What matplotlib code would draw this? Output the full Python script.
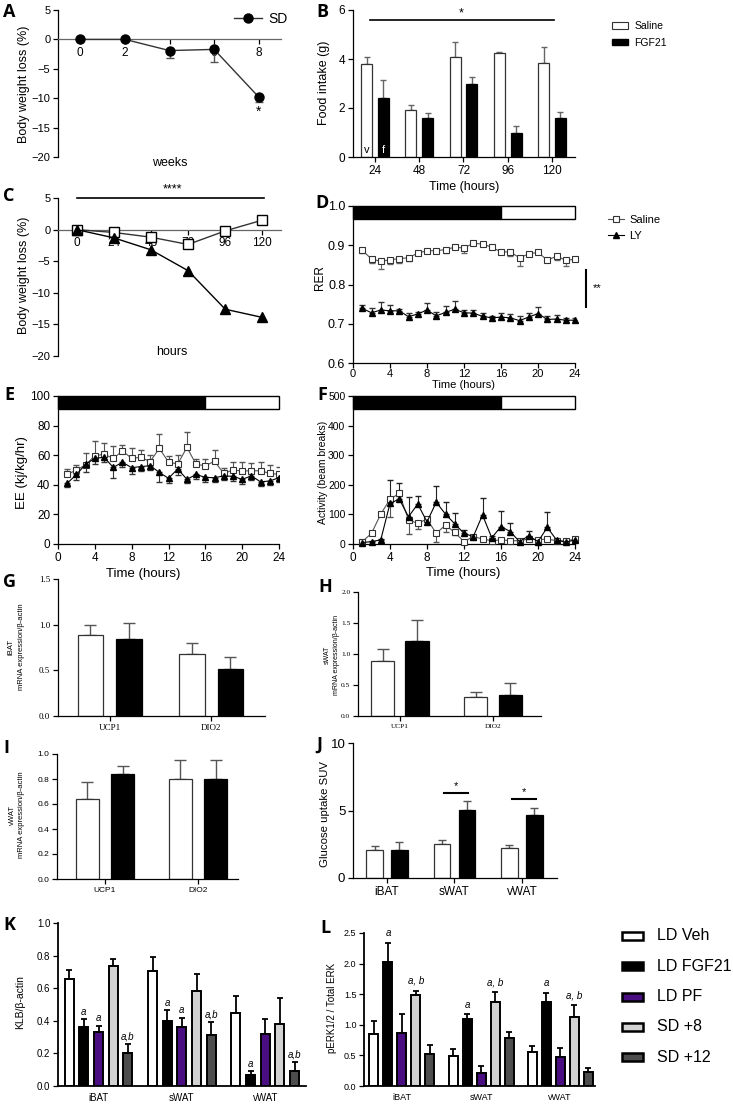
import matplotlib
matplotlib.use('Agg')
import matplotlib.pyplot as plt
import numpy as np
from matplotlib.patches import Rectangle, Patch
from matplotlib.lines import Line2D

# ---------------- data ----------------
a_weeks = [0, 2, 4, 6, 8]
a_sd = [0, 0, -1.9, -1.7, -9.8]
a_sd_err = [0, 0, 1.2, 2.2, 0.8]

b_times = ['24', '48', '72', '96', '120']
b_saline = [3.8, 1.9, 4.1, 4.25, 3.85]
b_saline_err = [0.27, 0.23, 0.6, 0.04, 0.64]
b_fgf21 = [2.4, 1.6, 3.0, 1.0, 1.6]
b_fgf21_err = [0.76, 0.19, 0.28, 0.27, 0.24]

c_hours = [0, 24, 48, 72, 96, 120]
c_saline = [0, -0.45, -1.2, -2.35, -0.2, 1.5]
c_ly = [0, -1.3, -3.2, -6.5, -12.6, -13.9]

hours = list(range(1, 25))
d_saline = [0.887, 0.865, 0.859, 0.863, 0.866, 0.868, 0.880, 0.886, 0.886, 0.889, 0.895, 0.893,
            0.905, 0.903, 0.895, 0.883, 0.883, 0.868, 0.878, 0.882, 0.862, 0.872, 0.862, 0.864]
d_saline_err = [0.008, 0.01, 0.02, 0.012, 0.01, 0.008, 0.005, 0.005, 0.005, 0.01, 0.005, 0.012,
                0.005, 0.005, 0.005, 0.005, 0.01, 0.02, 0.005, 0.005, 0.005, 0.01, 0.015, 0.005]
d_ly = [0.739, 0.728, 0.735, 0.733, 0.733, 0.718, 0.725, 0.735, 0.720, 0.729, 0.737, 0.728,
        0.727, 0.719, 0.715, 0.717, 0.715, 0.708, 0.717, 0.726, 0.711, 0.712, 0.709, 0.709]
d_ly_err = [0.01, 0.012, 0.02, 0.015, 0.005, 0.01, 0.005, 0.018, 0.01, 0.015, 0.02, 0.008,
            0.008, 0.008, 0.005, 0.01, 0.01, 0.012, 0.01, 0.017, 0.01, 0.01, 0.005, 0.005]

e_saline = [47, 50, 53.4, 59.7, 60.6, 57.9, 62.8, 57.9, 58.6, 55.6, 64.6, 55.4,
            54, 65.3, 53.8, 52.9, 55.9, 47.7, 50, 49.3, 49.5, 49.5, 47.7, 47]
e_saline_err = [3.5, 3.5, 8, 10, 7.4, 8.3, 4, 7, 5, 4.5, 10, 4,
                6, 10.6, 3.4, 4.3, 7.6, 3.4, 5.6, 6.3, 5, 6, 6, 5]
e_ly = [41, 47, 53.8, 57.9, 58.6, 51.8, 55.2, 51.6, 52.3, 52.9, 48.4, 44.4,
        50.7, 43.7, 47, 45, 44.8, 46, 45.7, 43.7, 46, 42, 42.6, 44.8]
e_ly_err = [2.3, 4, 5, 4, 3, 7.5, 3, 4, 3, 3, 6.7, 3.4,
            4, 2.7, 3, 3, 3, 3, 3, 3, 3, 2.5, 3, 3]

f_saline = [8, 36, 101, 151, 171, 81, 70, 84, 36, 64, 39, 8,
            25, 17, 11, 14, 11, 11, 17, 14, 17, 11, 10, 17]
f_saline_err = [2, 5, 5, 59, 10, 47, 20, 5, 30, 25, 10, 8,
                3, 3, 3, 3, 3, 3, 3, 3, 3, 3, 3, 3]
f_ly = [5, 8, 14, 137, 152, 92, 135, 75, 141, 101, 68, 36,
        25, 98, 21, 59, 42, 8, 28, 8, 56, 14, 6, 14]
f_ly_err = [3, 3, 3, 79, 53, 68, 28, 10, 56, 42, 36, 11,
            5, 59, 5, 51, 30, 3, 16, 3, 53, 3, 3, 3]

genes = ['UCP1', 'DIO2']
g_saline = [0.885, 0.68]
g_saline_err = [0.115, 0.115]
g_fgf21 = [0.845, 0.51]
g_fgf21_err = [0.175, 0.14]
h_saline = [0.886, 0.30]
h_saline_err = [0.19, 0.08]
h_fgf21 = [1.21, 0.335]
h_fgf21_err = [0.34, 0.2]
i_saline = [0.638, 0.798]
i_saline_err = [0.136, 0.154]
i_fgf21 = [0.84, 0.798]
i_fgf21_err = [0.067, 0.154]

tissues = ['iBAT', 'sWAT', 'vWAT']
j_saline = [2.04, 2.51, 2.2]
j_saline_err = [0.32, 0.29, 0.24]
j_fgf21 = [2.07, 5.07, 4.7]
j_fgf21_err = [0.63, 0.67, 0.45]

kl_groups = ['LD Veh', 'LD FGF21', 'LD PF', 'SD +8', 'SD +12']
kl_colors = ['white', 'black', '#4a0d82', '#d2d2d2', '#4d4d4d']
k_vals = [[0.657, 0.705, 0.45], [0.36, 0.40, 0.07], [0.33, 0.365, 0.32],
          [0.735, 0.58, 0.38], [0.20, 0.315, 0.09]]
k_errs = [[0.055, 0.085, 0.10], [0.05, 0.065, 0.02], [0.04, 0.055, 0.09],
          [0.045, 0.11, 0.16], [0.055, 0.075, 0.06]]
k_marks = [['', '', ''], ['a', 'a', 'a'], ['a', 'a', ''], ['', '', ''], ['a,b', 'a,b', 'a,b']]
l_vals = [[0.85, 0.49, 0.55], [2.03, 1.09, 1.38], [0.87, 0.22, 0.48],
          [1.49, 1.37, 1.12], [0.52, 0.78, 0.23]]
l_errs = [[0.21, 0.12, 0.11], [0.31, 0.08, 0.14], [0.31, 0.11, 0.14],
          [0.07, 0.16, 0.2], [0.15, 0.1, 0.07]]
l_marks = [['', '', ''], ['a', 'a', 'a'], ['', '', ''], ['a, b', 'a, b', 'a, b'], ['', '', '']]

# ---------------- figure ----------------
plt.rcParams['font.family'] = ['Liberation Sans', 'DejaVu Sans']
W, H = 733, 1106
fig = plt.figure(figsize=(W / 100, H / 100), dpi=100)


def add_ax(l, t, r, b):
    return fig.add_axes([l / W, 1 - b / H, (r - l) / W, (b - t) / H])


def ftext(x, y, s, **kw):
    kw.setdefault('ha', 'center')
    kw.setdefault('va', 'center')
    fig.text(x / W, 1 - y / H, s, **kw)


def style(ax, lab=8.5):
    for s in ['top', 'right']:
        ax.spines[s].set_visible(False)
    for s in ['left', 'bottom']:
        ax.spines[s].set_linewidth(0.9)
    ax.tick_params(direction='out', length=3.5, width=0.9, labelsize=lab, pad=2)


def letter(x, y, s):
    ftext(x, y, s, fontsize=13, fontweight='bold', family='Open Sans')


ECOL = '#555555'

# ---- A ----
ax = add_ax(58, 10, 281, 157)
style(ax, 8)
ax.set_xlim(-1, 9)
ax.set_ylim(-20, 5)
ax.spines['bottom'].set_position(('data', 0))
ax.spines['bottom'].set_color('#666666')
ax.set_xticks(a_weeks)
ax.tick_params(axis='x', labelsize=8.5)
ax.set_yticks([5, 0, -5, -10, -15, -20])
ax.errorbar(a_weeks, a_sd, yerr=[a_sd_err, [0] * 5], fmt='none', ecolor=ECOL,
            elinewidth=1, capsize=3, zorder=3)
ln, = ax.plot(a_weeks, a_sd, '-', color='#333333', lw=1, marker='o', ms=6.5,
              mfc='black', mec='black', zorder=4, clip_on=False)
ax.text(8, -12.3, '*', ha='center', va='center', fontsize=10)
fig.legend([ln], ['SD'], loc='center left', bbox_to_anchor=(222 / W, 1 - 19 / H),
           frameon=False, fontsize=10, handlelength=2.0, handletextpad=0.4)
ftext(24, 84, 'Body weight loss (%)', rotation=90, fontsize=9)
ftext(170, 163, 'weeks', fontsize=9)
letter(9, 12, 'A')

# ---- B ----
ax = add_ax(353, 10, 575, 157)
style(ax)
xb = np.arange(len(b_times))
ax.set_xlim(-0.497, 4.52)
ax.set_ylim(0, 6)
ax.set_yticks([0, 2, 4, 6])
ax.set_xticks(xb)
ax.set_xticklabels(b_times)
ax.bar(xb - 0.19, b_saline, 0.25, color='white', edgecolor='#333333', lw=0.9, zorder=2)
ax.bar(xb + 0.19, b_fgf21, 0.25, color='black', edgecolor='black', lw=0.9, zorder=2)
ax.errorbar(xb - 0.19, b_saline, yerr=[[0] * 5, b_saline_err], fmt='none', ecolor='#666666',
            elinewidth=1, capsize=2.5, zorder=1)
ax.errorbar(xb + 0.19, b_fgf21, yerr=[[0] * 5, b_fgf21_err], fmt='none', ecolor='#666666',
            elinewidth=1, capsize=2.5, zorder=1)
ax.plot([-0.12, 4.05], [5.58, 5.58], color='black', lw=1.2, clip_on=False)
ax.text(1.95, 5.85, '*', ha='center', va='center', fontsize=9)
ax.text(-0.19, 0.3, 'v', ha='center', va='center', fontsize=8)
ax.text(0.19, 0.3, 'f', ha='center', va='center', fontsize=8, color='white')
fig.legend([Patch(facecolor='white', edgecolor='#333333', lw=0.8),
            Patch(facecolor='black', edgecolor='black')], ['Saline', 'FGF21'],
           loc='upper left', bbox_to_anchor=(603 / W, 1 - 12 / H), frameon=False,
           fontsize=7.5, handlelength=1.5, handleheight=0.6, handletextpad=0.6,
           labelspacing=0.6)
ftext(324, 83, 'Food intake (g)', rotation=90, fontsize=9)
ftext(464, 187, 'Time (hours)', fontsize=9)
letter(322, 12, 'B')

# ---- C ----
ax = add_ax(58, 198, 281, 356)
style(ax, 8)
ax.set_xlim(-12, 132)
ax.set_ylim(-20, 5)
ax.spines['bottom'].set_position(('data', 0))
ax.spines['bottom'].set_color('#666666')
ax.set_xticks(c_hours)
ax.tick_params(axis='x', labelsize=8.5)
ax.set_yticks([5, 0, -5, -10, -15, -20])
ax.plot(c_hours, c_saline, '-', color='#333333', lw=1, marker='s', ms=6.5,
        mfc='white', mec='black', mew=1, zorder=4, clip_on=False)
ax.plot(c_hours, c_ly, '-', color='black', lw=1, marker='^', ms=7,
        mfc='black', mec='black', zorder=4, clip_on=False)
ax.plot([0, 121], [5, 5], color='black', lw=1.2, clip_on=False)
ftext(172, 189, '****', fontsize=9)
ftext(24, 275, 'Body weight loss (%)', rotation=90, fontsize=9)
ftext(172, 352, 'hours', fontsize=9)
letter(9, 196, 'C')


def light_bar(ax, ylo, yhi):
    ax.add_patch(Rectangle((0, ylo), 16, yhi - ylo, facecolor='black', edgecolor='black',
                           lw=1, clip_on=False, zorder=3))
    ax.add_patch(Rectangle((16, ylo), 8, yhi - ylo, facecolor='white', edgecolor='black',
                           lw=1, clip_on=False, zorder=3))


# ---- D ----
ax = add_ax(353, 206, 575, 363)
style(ax, 9)
ax.tick_params(axis='x', labelsize=8, pad=1)
ax.set_xlim(0, 24)
ax.set_ylim(0.6, 1.0)
ax.set_xticks(range(0, 25, 4))
ax.set_yticks([0.6, 0.7, 0.8, 0.9, 1.0])
ax.set_yticklabels(['0.6', '0.7', '0.8', '0.9', '1.0'])
light_bar(ax, 0.966, 1.0)
ax.errorbar(hours, d_saline, yerr=[d_saline_err, [0] * 24], fmt='none', ecolor='#666666',
            elinewidth=0.8, capsize=2, zorder=3)
ax.errorbar(hours, d_ly, yerr=[[0] * 24, d_ly_err], fmt='none', ecolor='#333333',
            elinewidth=0.8, capsize=2, zorder=3)
l1, = ax.plot(hours, d_saline, '-', color='#555555', lw=0.8, marker='s', ms=4.5,
              mfc='white', mec='#333333', mew=0.8, zorder=4, clip_on=False)
l2, = ax.plot(hours, d_ly, '-', color='black', lw=0.8, marker='^', ms=4.5,
              mfc='black', mec='black', zorder=4, clip_on=False)
fig.legend([l1, l2], ['Saline', 'LY'], loc='upper left', bbox_to_anchor=(598 / W, 1 - 205 / H),
           frameon=False, fontsize=8, handlelength=1.4, handletextpad=0.5, labelspacing=0.5)
fig.add_artist(Line2D([586 / W, 586 / W], [1 - 270 / H, 1 - 307 / H], color='black', lw=1.5))
ftext(597, 288, '**', fontsize=8)
ftext(320, 278, 'RER', rotation=90, fontsize=8.5)
ftext(463, 385, 'Time (hours)', fontsize=8)
letter(322, 203, 'D')

# ---- E ----
ax = add_ax(58, 396, 279, 544)
style(ax, 8.5)
ax.set_xlim(0, 24)
ax.set_ylim(0, 100)
ax.set_xticks(range(0, 25, 4))
ax.set_yticks(range(0, 101, 20))
light_bar(ax, 91, 100)
ax.errorbar(hours, e_saline, yerr=[[0] * 24, e_saline_err], fmt='none', ecolor='#555555',
            elinewidth=0.8, capsize=2, zorder=3)
ax.errorbar(hours, e_ly, yerr=[e_ly_err, [0] * 24], fmt='none', ecolor='#333333',
            elinewidth=0.8, capsize=2, zorder=3)
ax.plot(hours, e_saline, '-', color='#555555', lw=0.8, marker='s', ms=5,
        mfc='white', mec='#333333', mew=0.8, zorder=4)
ax.plot(hours, e_ly, '-', color='black', lw=0.8, marker='^', ms=4.5,
        mfc='black', mec='black', zorder=4)
ftext(22, 473, 'EE (kj/kg/hr)', rotation=90, fontsize=9.5)
ftext(143, 574, 'Time (hours)', fontsize=9.5)
letter(9, 395, 'E')

# ---- F ----
ax = add_ax(353, 396, 575, 544)
style(ax, 7.5)
ax.tick_params(axis='x', labelsize=8.5)
ax.set_xlim(0, 24)
ax.set_ylim(0, 500)
ax.set_xticks(range(0, 25, 4))
ax.set_yticks(range(0, 501, 100))
light_bar(ax, 455, 500)
ax.errorbar(hours, f_saline, yerr=[f_saline_err, [0] * 24], fmt='none', ecolor='#555555',
            elinewidth=0.8, capsize=2, zorder=3)
ax.errorbar(hours, f_ly, yerr=[[0] * 24, f_ly_err], fmt='none', ecolor='#222222',
            elinewidth=0.8, capsize=2, zorder=3)
ax.plot(hours, f_saline, '-', color='#555555', lw=0.8, marker='s', ms=5,
        mfc='white', mec='#333333', mew=0.8, zorder=4, clip_on=False)
ax.plot(hours, f_ly, '-', color='black', lw=0.8, marker='^', ms=4.5,
        mfc='black', mec='black', zorder=4, clip_on=False)
ftext(323, 472, 'Activity (beam breaks)', rotation=90, fontsize=7.5)
ftext(463, 573, 'Time (hours)', fontsize=9.5)
letter(322, 395, 'F')


def pair_bars(ax, sal, sal_e, fgf, fgf_e, off, w, cap=3):
    x = np.arange(len(sal))
    ax.bar(x - off, sal, w, color='white', edgecolor='#333333', lw=0.9, zorder=2)
    ax.bar(x + off, fgf, w, color='black', edgecolor='black', lw=0.9, zorder=2)
    ax.errorbar(x - off, sal, yerr=[[0] * len(sal), sal_e], fmt='none', ecolor='#555555',
                elinewidth=1, capsize=cap, zorder=1)
    ax.errorbar(x + off, fgf, yerr=[[0] * len(fgf), fgf_e], fmt='none', ecolor='#555555',
                elinewidth=1, capsize=cap, zorder=1)
    return x


# ---- G ----
ax = add_ax(58, 579, 265, 716)
style(ax, 6.5)
x = pair_bars(ax, g_saline, g_saline_err, g_fgf21, g_fgf21_err, 0.19, 0.25, cap=4)
ax.set_xlim(-0.507, 1.53)
ax.set_ylim(0, 1.5)
ax.set_yticks([0, 0.5, 1.0, 1.5])
ax.set_yticklabels(['0.0', '0.5', '1.0', '1.5'])
ax.set_xticks(x)
ax.set_xticklabels(genes)
for t in ax.get_xticklabels() + ax.get_yticklabels():
    t.set_family('Liberation Serif')
ftext(11, 647, 'iBAT', rotation=90, fontsize=5.5)
ftext(22, 647, 'mRNA expression/β-actin', rotation=90, fontsize=5.5)
letter(9, 582, 'G')

# ---- H ----
ax = add_ax(358, 592, 541, 716)
style(ax, 5.3)
x = pair_bars(ax, h_saline, h_saline_err, h_fgf21, h_fgf21_err, 0.185, 0.25, cap=4)
ax.set_xlim(-0.45, 1.516)
ax.set_ylim(0, 2.0)
ax.set_yticks([0, 0.5, 1.0, 1.5, 2.0])
ax.set_yticklabels(['0.0', '0.5', '1.0', '1.5', '2.0'])
ax.set_xticks(x)
ax.set_xticklabels(genes)
for t in ax.get_xticklabels() + ax.get_yticklabels():
    t.set_family('Liberation Serif')
ftext(327, 655, 'sWAT', rotation=90, fontsize=5)
ftext(337, 655, 'mRNA expression/β-actin', rotation=90, fontsize=5)
letter(325, 587, 'H')

# ---- I ----
ax = add_ax(57, 754, 238, 879)
style(ax, 6)
x = pair_bars(ax, i_saline, i_saline_err, i_fgf21, i_fgf21_err, 0.19, 0.247, cap=4)
ax.set_xlim(-0.516, 1.43)
ax.set_ylim(0, 1.0)
ax.set_yticks([0, 0.2, 0.4, 0.6, 0.8, 1.0])
ax.set_yticklabels(['0.0', '0.2', '0.4', '0.6', '0.8', '1.0'])
ax.set_xticks(x)
ax.set_xticklabels(genes)
ftext(12, 815, 'vWAT', rotation=90, fontsize=5.5)
ftext(22, 815, 'mRNA expression/β-actin', rotation=90, fontsize=5.5)
letter(6, 748, 'I')

# ---- J ----
ax = add_ax(353, 743, 557, 878)
style(ax, 9.5)
ax.tick_params(axis='x', labelsize=8.5)
x = pair_bars(ax, j_saline, j_saline_err, j_fgf21, j_fgf21_err, 0.185, 0.25, cap=3)
ax.set_xlim(-0.504, 2.52)
ax.set_ylim(0, 10)
ax.set_yticks([0, 5, 10])
ax.set_xticks(x)
ax.set_xticklabels(tissues)
ax.plot([0.844, 1.2], [6.28, 6.28], color='black', lw=1.5)
ax.text(1.02, 6.45, '*', ha='center', va='bottom', fontsize=8)
ax.plot([1.85, 2.21], [5.84, 5.84], color='black', lw=1.5)
ax.text(2.03, 6.0, '*', ha='center', va='bottom', fontsize=8)
ftext(325, 814, 'Glucose uptake SUV', rotation=90, fontsize=8.2)
letter(319, 745, 'J')


def five_bars(ax, vals, errs, marks, step, w, ystep):
    x = np.arange(3)
    for gi in range(5):
        xs = x + (gi - 2) * step
        ax.bar(xs, vals[gi], w, color=kl_colors[gi], edgecolor='black', lw=1.4, zorder=2)
        ax.errorbar(xs, vals[gi], yerr=[[0] * 3, errs[gi]], fmt='none', ecolor='black',
                    elinewidth=1.3, capsize=2, capthick=1.3, zorder=1)
        for ti in range(3):
            if marks[gi][ti]:
                ax.text(xs[ti], vals[gi][ti] + errs[gi][ti] + ystep, marks[gi][ti],
                        ha='center', va='bottom', fontsize=7, style='italic')
    return x


# ---- K ----
ax = add_ax(58, 923, 306, 1086)
style(ax, 7)
ax.spines['left'].set_linewidth(1.3)
ax.spines['bottom'].set_linewidth(1.3)
x = five_bars(ax, k_vals, k_errs, k_marks, 0.176, 0.11, 0.015)
ax.set_xlim(-0.486, 2.49)
ax.set_ylim(0, 1.0)
ax.set_yticks([0, 0.2, 0.4, 0.6, 0.8, 1.0])
ax.set_yticklabels(['0.0', '0.2', '0.4', '0.6', '0.8', '1.0'])
ax.set_xticks(x)
ax.set_xticklabels(tissues)
ax.tick_params(axis='x', length=0, pad=5)
ftext(20, 1002, 'KLB/β-actin', rotation=90, fontsize=7.5)
letter(9, 925, 'K')

# ---- L ----
ax = add_ax(364, 933, 595, 1086)
style(ax, 6.5)
ax.spines['left'].set_linewidth(1.3)
ax.spines['bottom'].set_linewidth(1.3)
x = five_bars(ax, l_vals, l_errs, l_marks, 0.177, 0.114, 0.08)
ax.set_xlim(-0.48, 2.44)
ax.set_ylim(0, 2.5)
ax.set_yticks([0, 0.5, 1.0, 1.5, 2.0, 2.5])
ax.set_yticklabels(['0.0', '0.5', '1.0', '1.5', '2.0', '2.5'])
ax.set_xticks(x)
ax.set_xticklabels(tissues)
ax.tick_params(axis='x', length=0, pad=5)
ftext(332, 1008, 'pERK1/2 / Total ERK', rotation=90, fontsize=7)
letter(325, 928, 'L')

# legend K/L
for i, (name, col) in enumerate(zip(kl_groups, kl_colors)):
    yc = 936 + i * 30.3
    fig.add_artist(Rectangle((622 / W, 1 - (yc + 4) / H), 21 / W, 8 / H, facecolor=col,
                             edgecolor='black', lw=1.8, transform=fig.transFigure))
    ftext(657, yc, name, ha='left', fontsize=11.5)

fig.savefig('out.png', dpi=100)
